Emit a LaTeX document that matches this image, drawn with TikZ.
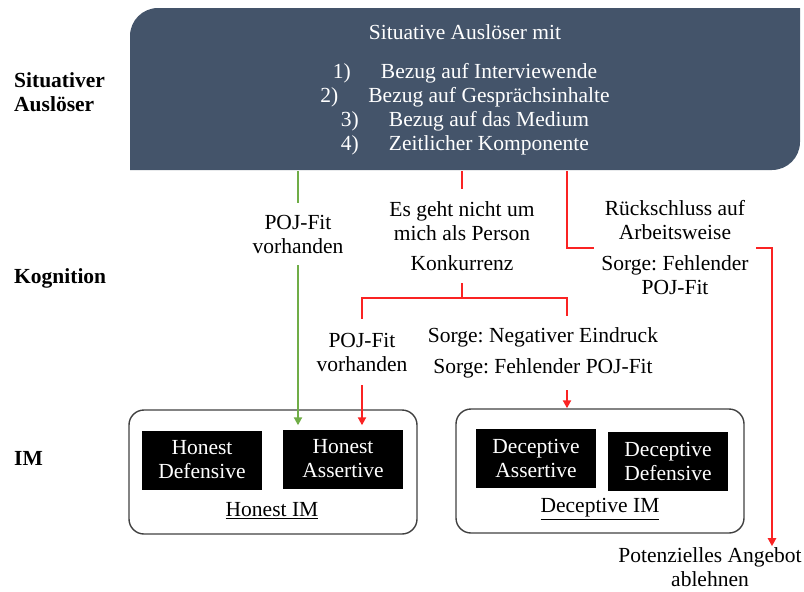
\documentclass[tikz,border=0pt]{standalone}
\usepackage{fontspec}
\setmainfont{Liberation Serif}
\usepackage{xcolor}
\usetikzlibrary{arrows.meta}
\frenchspacing

\definecolor{slate}{RGB}{68,84,106}
\definecolor{posgreen}{RGB}{112,173,71}
\definecolor{negred}{RGB}{250,35,35}
\newcommand{\bodyfont}{\fontsize{21.5}{24}\selectfont}

\begin{document}
\begin{tikzpicture}[x=1pt, y=1pt,
    lbl/.style={font=\bodyfont, align=center, inner sep=0pt},
    level/.style={font=\bodyfont\bfseries, anchor=west, align=left, inner sep=0pt},
    imbox/.style={fill=black, text=white, font=\bodyfont, align=center, minimum width=120pt, minimum height=59pt, inner sep=0pt},
    groupbox/.style={draw=black!75, line width=1.4pt, rounded corners=15pt, minimum width=288pt, minimum height=124pt},
    greenline/.style={draw=posgreen, line width=2.3pt},
    redline/.style={draw=negred, line width=2.3pt},
    arr/.style={-{Triangle[length=8pt, width=8pt]}}]
    \useasboundingbox (0,0) rectangle (804,-592);

    % trigger box, rounded top left and bottom right
    \fill[slate] (130,-170) -- (130,-36) arc[start angle=180, end angle=90, radius=28]
        -- (800,-8) -- (800,-142) arc[start angle=0, end angle=-90, radius=28] -- cycle;
    \node[font=\bodyfont, text=white, align=center, minimum width=670pt, minimum height=162pt, inner sep=0pt] (trigger) at (465,-90)
        {Situative Auslöser mit\\[15pt]
         1)\hspace{1.4em}Bezug auf Interviewende\\
         2)\hspace{1.4em}Bezug auf Gesprächsinhalte\\
         3)\hspace{1.4em}Bezug auf das Medium\\
         4)\hspace{1.4em}Zeitlicher Komponente};

    % levels
    \node[level] (lvtrig) at (14,-92) {Situativer\\Auslöser};
    \node[level] (lvkog) at (14,-278) {Kognition};
    \node[level] (lvim) at (14,-458) {IM};

    % IM groups
    \node[groupbox] (honest) at (273,-472) {};
    \node[groupbox] (decep) at (600,-471) {};
    \node[imbox] (honDef) at (202,-460) {Honest\\Defensive};
    \node[imbox] (honAss) at (343,-459) {Honest\\Assertive};
    \node[imbox] (decAss) at (536,-458) {Deceptive\\Assertive};
    \node[imbox] (decDef) at (668,-461) {Deceptive\\Defensive};
    \node[font=\bodyfont] (honIM) at (272,-511) {\underline{Honest IM}};
    \node[font=\bodyfont] (decIM) at (600,-509) {\underline{Deceptive IM}};

    % cognition labels
    \node[lbl, minimum height=62pt] (pojA) at (298,-234) {POJ-Fit\\vorhanden};
    \node[lbl, minimum height=94pt] (notme) at (462,-236) {Es geht nicht um\\mich als Person\\[6pt]Konkurrenz};
    \node[lbl, minimum height=66pt] (pojB) at (362,-352) {POJ-Fit\\vorhanden};
    \node[lbl, minimum height=74pt] (worry) at (543,-353) {Sorge: Negativer Eindruck\\[7pt]Sorge: Fehlender POJ-Fit};
    \node[lbl, minimum width=162pt] (infer) at (675,-248) {Rückschluss auf\\Arbeitsweise\\[7pt]Sorge: Fehlender\\POJ-Fit};
    \node[font=\bodyfont, align=center, inner sep=1pt] (reject) at (710,-567) {Potenzielles Angebot\\ablehnen};

    \coordinate (fork) at (462,-298);
    \coordinate (rx) at (567,0);
    \coordinate (ax) at (772,0);

    % connectors
    \draw[greenline] (trigger.south -| pojA) -- (pojA.north);
    \draw[greenline, arr] (pojA.south) -- ([yshift=4pt]honAss.north -| pojA);
    \draw[redline] (trigger.south -| notme) -- (notme.north);
    \draw[redline] (notme.south) -- (fork) -| (pojB.north);
    \draw[redline, arr] (pojB.south) -- ([yshift=4pt]honAss.north -| pojB);
    \draw[redline] (fork) -| (worry.north -| rx);
    \draw[redline, arr] (worry.south -| rx) -- (decep.north -| rx);
    \draw[redline] (trigger.south -| rx) |- (infer.west);
    \draw[redline, arr] (infer.east) -| (reject.north -| ax);
\end{tikzpicture}
\end{document}
